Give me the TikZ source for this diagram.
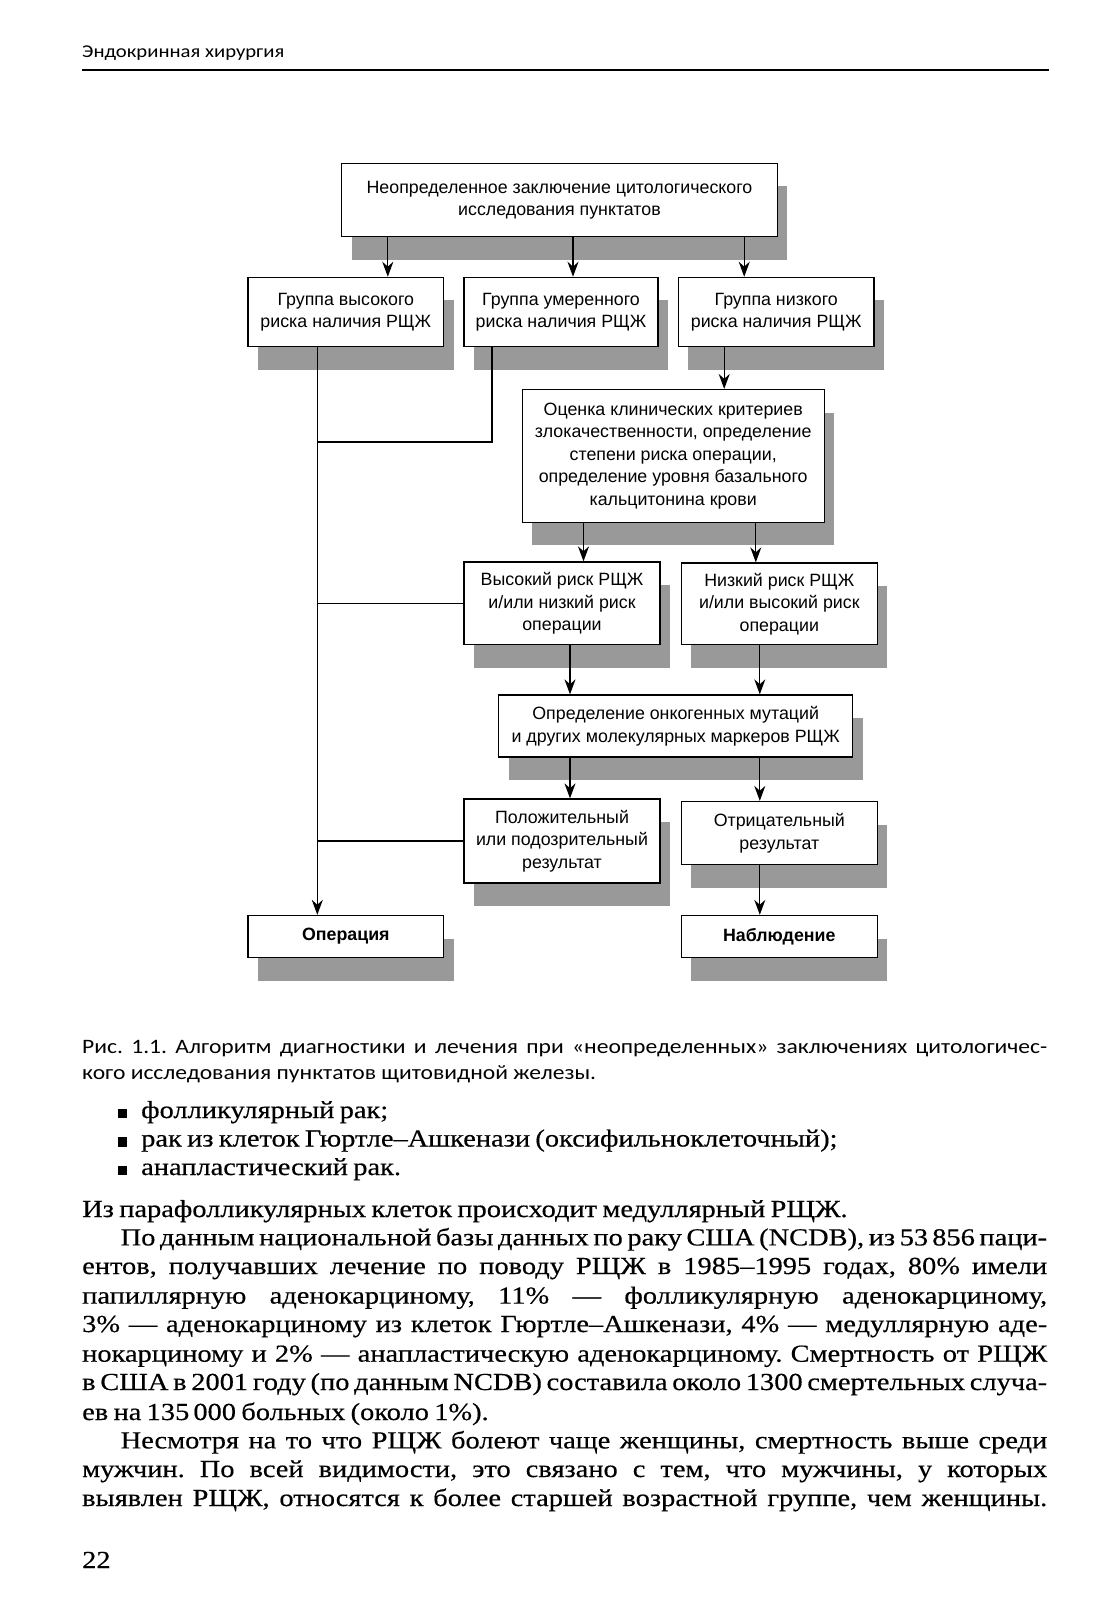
\documentclass[tikz,border=0pt]{standalone}
\usepackage{fontspec}
\setmainfont{Liberation Serif}[FakeStretch=1.16, FakeBold=0.4, WordSpace={0.75,1,1.6}]
\newfontfamily\boxsans{Liberation Sans}
\newfontfamily\capsans{Carlito}[FakeStretch=1.15]
\usetikzlibrary{arrows.meta,shadows}

\tikzset{
  box/.style={draw, fill=white, line width=1.3pt, align=center, inner sep=0pt,
    font=\boxsans\fontsize{17.8}{22.5}\selectfont,
    drop shadow={shadow xshift=10pt, shadow yshift=-23pt, fill=black!40, opacity=1}},
  arr/.style={line width=1.3pt, -{Stealth[length=15pt,width=11pt]}},
  link/.style={line width=1.3pt},
  bodyline/.style={anchor=base west, inner sep=0pt, font=\fontsize{24.5}{29}\selectfont},
  capline/.style={anchor=base west, inner sep=0pt, font=\capsans\fontsize{20.5}{26}\selectfont}
}

\begin{document}
\frenchspacing
\begin{tikzpicture}[x=1pt, y=-1pt]
\fill[white] (0,0) rectangle (1100,1600);
\useasboundingbox (0,0) rectangle (1100,1600);

% running head
\node[capline, font=\capsans\fontsize{18}{22}\selectfont] (Head) at (82,58) {Эндокринная хирургия};
\draw[line width=1.2pt] (82,70) -- (1049,70);

% flowchart boxes
\node[box, minimum width=435.5pt, minimum height=73.4pt] (Uncertain) at (559.5,200) {Неопределенное заключение цитологического\\исследования пунктатов};
\node[box, minimum width=195.8pt, minimum height=69.4pt] (HighGroup) at (345.8,312.1) {Группа высокого\\риска наличия РЩЖ};
\node[box, minimum width=193.8pt, minimum height=69.4pt] (ModGroup) at (561,312.1) {Группа умеренного\\риска наличия РЩЖ};
\node[box, minimum width=195.8pt, minimum height=69.4pt] (LowGroup) at (776.2,312.1) {Группа низкого\\риска наличия РЩЖ};
\node[box, minimum width=301.9pt, minimum height=132.6pt] (Criteria) at (673.2,455.9) {Оценка клинических критериев\\злокачественности, определение\\степени риска операции,\\определение уровня базального\\кальцитонина крови};
\node[box, minimum width=195.8pt, minimum height=82.6pt] (HighRisk) at (562,603.3) {Высокий риск РЩЖ\\и/или низкий риск\\операции};
\node[box, minimum width=195.8pt, minimum height=81.6pt] (LowRisk) at (779.3,603.8) {Низкий риск РЩЖ\\и/или высокий риск\\операции};
\node[box, minimum width=354pt, minimum height=62pt] (Markers) at (675.7,726) {Определение онкогенных мутаций\\и других молекулярных маркеров РЩЖ};
\node[box, minimum width=195.8pt, minimum height=84pt] (Positive) at (562,841) {Положительный\\или подозрительный\\результат};
\node[box, minimum width=195.8pt, minimum height=63pt] (Negative) at (779.3,833) {Отрицательный\\результат};
\node[box, minimum width=195.8pt, minimum height=42pt] (Operation) at (345.8,936.5) {\textbf{Операция}};
\node[box, minimum width=195.8pt, minimum height=42pt] (Observation) at (779.3,936.5) {\textbf{Наблюдение}};

% connectors
\coordinate (Trunk) at ([xshift=-28.5pt]HighGroup.south);
\draw[arr] ([xshift=42pt]HighGroup.north |- Uncertain.south) -- ([xshift=42pt]HighGroup.north);
\draw[arr] ([xshift=12pt]ModGroup.north |- Uncertain.south) -- ([xshift=12pt]ModGroup.north);
\draw[arr] ([xshift=-32pt]LowGroup.north |- Uncertain.south) -- ([xshift=-32pt]LowGroup.north);
\draw[arr] (Trunk) -- (Trunk |- Operation.north);
\draw[link] ([xshift=-69pt]ModGroup.south) |- ([yshift=14pt]Criteria.west -| Trunk);
\draw[arr] ([xshift=-52pt]LowGroup.south) -- ([xshift=-52pt]LowGroup.south |- Criteria.north);
\draw[arr] ([xshift=21.5pt]HighRisk.north |- Criteria.south) -- ([xshift=21.5pt]HighRisk.north);
\draw[arr] ([xshift=-23.5pt]LowRisk.north |- Criteria.south) -- ([xshift=-23.5pt]LowRisk.north);
\draw[link] (HighRisk.west) -- (HighRisk.west -| Trunk);
\draw[arr] ([xshift=8pt]HighRisk.south) -- ([xshift=8pt]HighRisk.south |- Markers.north);
\draw[arr] ([xshift=-19.5pt]LowRisk.south) -- ([xshift=-19.5pt]LowRisk.south |- Markers.north);
\draw[arr] ([xshift=8pt]Positive.north |- Markers.south) -- ([xshift=8pt]Positive.north);
\draw[arr] ([xshift=-19.5pt]Negative.north |- Markers.south) -- ([xshift=-19.5pt]Negative.north);
\draw[link] (Positive.west) -- (Positive.west -| Trunk);
\draw[arr] ([xshift=-19.5pt]Negative.south) -- ([xshift=-19.5pt]Negative.south |- Observation.north);

% caption
\node[capline] (Cap1) at (82,1053.7) {\makebox[965pt][s]{Рис. 1.1. Алгоритм диагностики и лечения при «неопределенных» заключениях цитологичес-}};
\node[capline] (Cap2) at (82,1079) {кого исследования пунктатов щитовидной железы.};

% body text
\node[bodyline] (Item1) at (117.5,1118) {\rule{9.5pt}{9.5pt}\hspace{14pt}фолликулярный рак;};
\node[bodyline] (Item2) at (117.5,1146.5) {\rule{9.5pt}{9.5pt}\hspace{14pt}рак из клеток Гюртле–Ашкенази (оксифильноклеточный);};
\node[bodyline] (Item3) at (117.5,1175) {\rule{9.5pt}{9.5pt}\hspace{14pt}анапластический рак.};
\node[bodyline] (Line1) at (82,1217) {Из парафолликулярных клеток происходит медуллярный РЩЖ.};
\node[bodyline] (Line2) at (120.5,1245.4) {\makebox[926.5pt][s]{По данным национальной базы данных по раку США (NCDB), из 53\,856 паци-}};
\node[bodyline] (Line3) at (82,1274) {\makebox[965pt][s]{ентов, получавших лечение по поводу РЩЖ в 1985–1995 годах, 80\% имели}};
\node[bodyline] (Line4) at (82,1303.6) {\makebox[965pt][s]{папиллярную аденокарциному, 11\% — фолликулярную аденокарциному,}};
\node[bodyline] (Line5) at (82,1332) {\makebox[965pt][s]{3\% — аденокарциному из клеток Гюртле–Ашкенази, 4\% — медуллярную аде-}};
\node[bodyline] (Line6) at (82,1361.7) {\makebox[965pt][s]{нокарциному и 2\% — анапластическую аденокарциному. Смертность от РЩЖ}};
\node[bodyline] (Line7) at (82,1390) {\makebox[965pt][s]{в США в 2001 году (по данным NCDB) составила около 1300 смертельных случа-}};
\node[bodyline] (Line8) at (82,1420) {ев на 135\,000 больных (около 1\%).};
\node[bodyline] (Line9) at (120.5,1448.4) {\makebox[926.5pt][s]{Несмотря на то что РЩЖ болеют чаще женщины, смертность выше среди}};
\node[bodyline] (Line10) at (82,1477) {\makebox[965pt][s]{мужчин. По всей видимости, это связано с тем, что мужчины, у которых}};
\node[bodyline] (Line11) at (82,1506) {\makebox[965pt][s]{выявлен РЩЖ, относятся к более старшей возрастной группе, чем женщины.}};
\node[bodyline] (PageNum) at (82,1568) {22};
\end{tikzpicture}
\end{document}
